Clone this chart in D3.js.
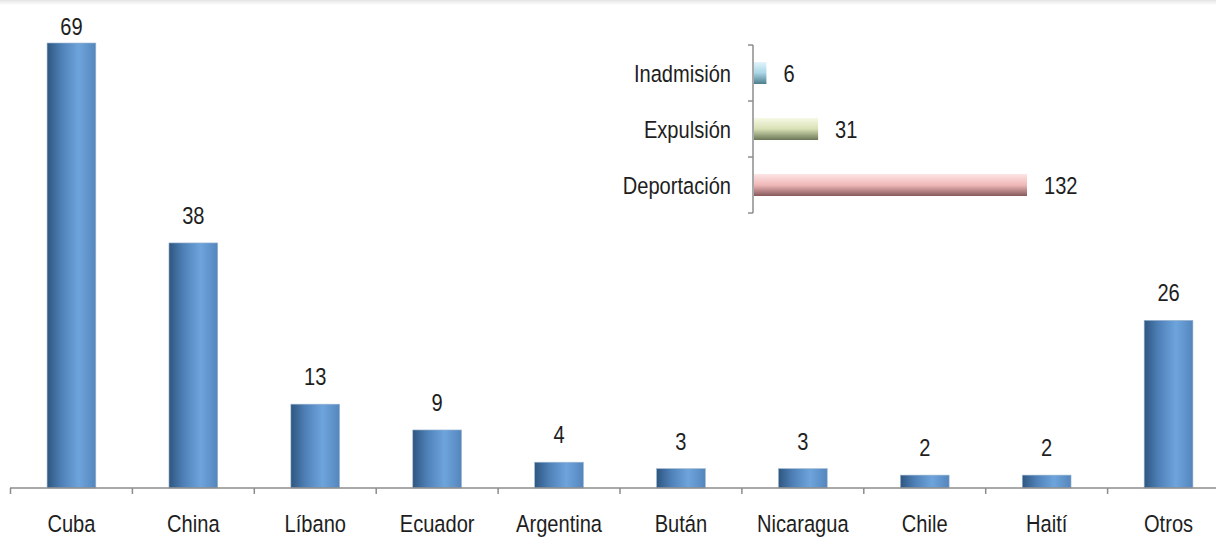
<!DOCTYPE html>
<html>
<head>
<meta charset="utf-8">
<script src="https://cdn.jsdelivr.net/npm/d3@7"></script>
<style>
  html, body { margin: 0; padding: 0; background: #fff; }
  svg { display: block; font-family: "Liberation Sans", Arial, sans-serif; }
</style>
</head>
<body>
<div id="chart"></div>
<script>
// Countries and counts (main chart)
var countries = ["Cuba", "China", "Líbano", "Ecuador", "Argentina", "Bután", "Nicaragua", "Chile", "Haití", "Otros"];
var countryValues = [69, 38, 13, 9, 4, 3, 3, 2, 2, 26];

// Measure type and counts (inset chart)
var measures = ["Inadmisión", "Expulsión", "Deportación"];
var measureValues = [6, 31, 132];
var measureColors = [
  ["#e2f5fb", "#a9d6e6", "#4d7d8c"],
  ["#f7f9e6", "#d7e0b4", "#6a7656"],
  ["#fde4e4", "#f0b8b8", "#86595c"]
];

var width = 1216, height = 537;
var fontSize = 24.5, textColor = "#1e1e1e", axisColor = "#8c8c8c";
// the original uses a narrow face; squeeze a regular one to match
var narrow = 0.82;

function place(px, py) {
  return "translate(" + px + "," + py + ") scale(" + narrow + ",1)";
}

var svg = d3.select("#chart").append("svg")
  .attr("width", width)
  .attr("height", height);

var defs = svg.append("defs");

// faint shadow along the top edge
var topGrad = defs.append("linearGradient").attr("id", "topShade")
  .attr("x1", 0).attr("y1", 0).attr("x2", 0).attr("y2", 1);
topGrad.append("stop").attr("offset", 0).attr("stop-color", "#e4e4e4");
topGrad.append("stop").attr("offset", 1).attr("stop-color", "#ffffff");
svg.append("rect").attr("x", 0).attr("y", 0).attr("width", width).attr("height", 5)
  .attr("fill", "url(#topShade)");

// cylinder-like gradient for the main bars
var barGrad = defs.append("linearGradient").attr("id", "barGrad")
  .attr("x1", 0).attr("y1", 0).attr("x2", 1).attr("y2", 0);
barGrad.append("stop").attr("offset", 0).attr("stop-color", "#2e5680");
barGrad.append("stop").attr("offset", 0.3).attr("stop-color", "#4f81b8");
barGrad.append("stop").attr("offset", 0.65).attr("stop-color", "#6ea4dc");
barGrad.append("stop").attr("offset", 1).attr("stop-color", "#5486bd");

// ---- main chart ----
var baseY = 488;
var x = d3.scaleBand()
  .domain(countries)
  .range([10.5, 1229.5])
  .paddingInner(0.6)
  .paddingOuter(0.3);

var y = d3.scaleLinear()
  .domain([0, 69])
  .range([baseY, 43]);

var bars = svg.append("g").attr("class", "bars");
bars.selectAll("rect")
  .data(countryValues)
  .enter().append("rect")
  .attr("x", function (d, i) { return x(countries[i]); })
  .attr("y", function (d) { return y(d); })
  .attr("width", x.bandwidth())
  .attr("height", function (d) { return baseY - y(d); })
  .attr("fill", "url(#barGrad)")
  .attr("stroke", "#9fb7cf")
  .attr("stroke-width", 0.6);

// labels sit above bars, but never above the plot's top
bars.selectAll("text")
  .data(countryValues)
  .enter().append("text")
  .attr("transform", function (d, i) {
    return place(x(countries[i]) + x.bandwidth() / 2, Math.max(y(d) - 19, 35));
  })
  .attr("text-anchor", "middle")
  .attr("font-size", fontSize)
  .attr("fill", textColor)
  .text(function (d) { return d; });

// x axis: ticks between bands
var xAxis = svg.append("g").attr("class", "x-axis");
var bandStep = x.step();
xAxis.append("line")
  .attr("x1", 10).attr("x2", width)
  .attr("y1", baseY).attr("y2", baseY)
  .attr("stroke", axisColor).attr("stroke-width", 1.5);
xAxis.selectAll("line.tick")
  .data(countries)
  .enter().append("line")
  .attr("class", "tick")
  .attr("x1", function (c) { return x(c) + x.bandwidth() / 2 - bandStep / 2; })
  .attr("x2", function (c) { return x(c) + x.bandwidth() / 2 - bandStep / 2; })
  .attr("y1", baseY).attr("y2", baseY + 6)
  .attr("stroke", axisColor).attr("stroke-width", 1.5);

xAxis.selectAll("text")
  .data(countries)
  .enter().append("text")
  .attr("transform", function (c) { return place(x(c) + x.bandwidth() / 2, 532); })
  .attr("text-anchor", "middle")
  .attr("font-size", fontSize)
  .attr("fill", textColor)
  .text(function (c) { return c; });

// ---- inset chart ----
var insetX0 = 753;
var xi = d3.scaleLinear().domain([0, 132]).range([insetX0, 1026]);
var yi = d3.scaleBand().domain(measures).range([45, 213]).paddingInner(0.6).paddingOuter(0.3);

measureColors.forEach(function (c, i) {
  var g = defs.append("linearGradient").attr("id", "mGrad" + i)
    .attr("x1", 0).attr("y1", 0).attr("x2", 0).attr("y2", 1);
  g.append("stop").attr("offset", 0).attr("stop-color", c[0]);
  g.append("stop").attr("offset", 0.5).attr("stop-color", c[1]);
  g.append("stop").attr("offset", 1).attr("stop-color", c[2]);
});

var inset = svg.append("g").attr("class", "inset");
inset.selectAll("rect")
  .data(measureValues)
  .enter().append("rect")
  .attr("x", insetX0 + 1)
  .attr("y", function (d, i) { return yi(measures[i]) + yi.bandwidth() / 2 - 11; })
  .attr("width", function (d) { return xi(d) - insetX0; })
  .attr("height", 22)
  .attr("fill", function (d, i) { return "url(#mGrad" + i + ")"; });

inset.selectAll("text.val")
  .data(measureValues)
  .enter().append("text")
  .attr("class", "val")
  .attr("transform", function (d, i) {
    return place(xi(d) + 18, yi(measures[i]) + yi.bandwidth() / 2 + 9);
  })
  .attr("font-size", fontSize)
  .attr("fill", textColor)
  .text(function (d) { return d; });

inset.selectAll("text.cat")
  .data(measures)
  .enter().append("text")
  .attr("class", "cat")
  .attr("transform", function (m) { return place(731, yi(m) + yi.bandwidth() / 2 + 9); })
  .attr("text-anchor", "end")
  .attr("font-size", fontSize)
  .attr("fill", textColor)
  .text(function (m) { return m; });

// inset axis with ticks between categories
var iStep = yi.step();
inset.append("line")
  .attr("x1", insetX0).attr("x2", insetX0)
  .attr("y1", 45).attr("y2", 213)
  .attr("stroke", axisColor).attr("stroke-width", 1.5);
var iTicks = measures.map(function (m) { return yi(m) + yi.bandwidth() / 2 - iStep / 2; });
iTicks.push(yi(measures[2]) + yi.bandwidth() / 2 + iStep / 2);
inset.selectAll("line.tick")
  .data(iTicks)
  .enter().append("line")
  .attr("class", "tick")
  .attr("x1", insetX0 - 5).attr("x2", insetX0)
  .attr("y1", function (d) { return d; })
  .attr("y2", function (d) { return d; })
  .attr("stroke", axisColor).attr("stroke-width", 1.5);
</script>
</body>
</html>
